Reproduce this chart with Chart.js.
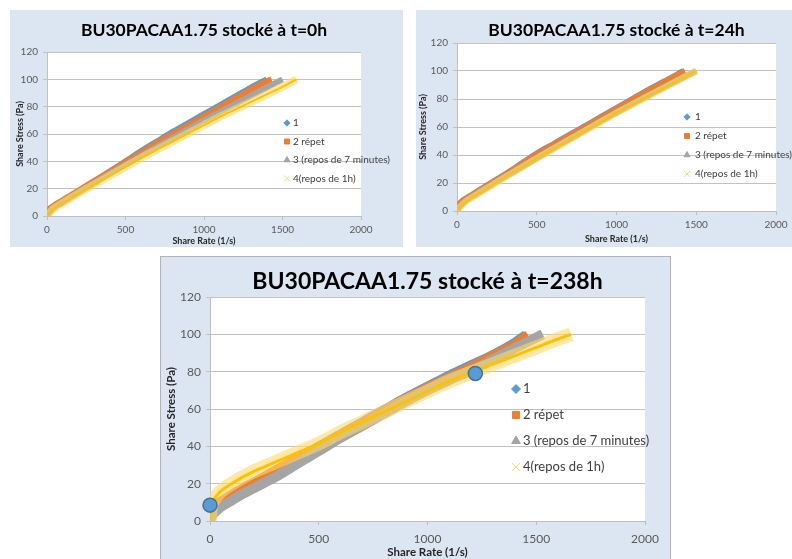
<!DOCTYPE html>
<html lang="fr">
<head>
<meta charset="utf-8">
<title>BU30PACAA1.75</title>
<script src="https://cdn.jsdelivr.net/npm/chart.js@4.4.1/dist/chart.umd.min.js"></script>
<style>
  html, body { margin: 0; padding: 0; background: #ffffff; }
  body { width: 792px; height: 559px; position: relative; overflow: hidden; }
  .panel { position: absolute; background: #dce6f2; }
  .panel canvas { display: block; }
  #panel0 { left: 10px; top: 10px; width: 393px; height: 237px; }
  #panel24 { left: 416px; top: 10px; width: 376px; height: 237px; }
  #panel238 { left: 160px; top: 256px; width: 511px; height: 304px; border: 1px solid #b3b3b3; box-sizing: border-box; }
</style>
</head>
<body>
<div class="panel" id="panel0"><canvas id="chart0" width="393" height="237"></canvas></div>
<div class="panel" id="panel24"><canvas id="chart24" width="376" height="237"></canvas></div>
<div class="panel" id="panel238"><canvas id="chart238" width="509" height="302"></canvas></div>

<script>
// axis ticks
const rateTicks = [0, 500, 1000, 1500, 2000];
const stressTicks = [0, 20, 40, 60, 80, 100, 120];

const seriesLabels = ["1", "2 répet", "3 (repos de 7 minutes)", "4(repos de 1h)"];

// t = 0h  [share rate, share stress]
const t0Series1 = [[0,0],[5,2.5],[15,4.5],[30,6],[50,7.8],[75,9.5],[100,11],[150,14.5],[200,18],[250,21.5],[300,25],[400,32.5],[500,40],[600,47.5],[700,54.5],[800,61.5],[900,68],[1000,74.5],[1100,81],[1200,87.5],[1300,94],[1400,100]];
const t0Series2 = [[0,0.5],[5,3],[15,5],[30,6.5],[50,8],[100,11.5],[150,15],[200,18.5],[300,25.5],[400,32.5],[500,39.5],[600,46.5],[700,53.5],[800,60],[900,66.5],[1000,73],[1100,79.5],[1200,86],[1300,92.5],[1400,98.5],[1430,100]];
const t0Series3 = [[0,0],[10,2],[25,4],[50,6.5],[100,10],[150,13.5],[200,17],[300,24],[400,31],[500,37.5],[600,44],[700,50.5],[800,57],[900,63.5],[1000,70],[1100,76],[1200,82],[1300,88],[1400,94],[1500,100]];
const t0Series4 = [[0,0],[10,1.5],[25,3.5],[50,6],[100,9.5],[150,13],[200,16.5],[300,23],[400,29.5],[500,36],[600,42.5],[700,48.5],[800,54.5],[900,60.5],[1000,66.5],[1100,72.5],[1200,78],[1300,83.5],[1400,89],[1500,94.5],[1590,100]];

// t = 24h
const t24Series1 = [[0,0],[5,3],[15,5],[30,6.8],[50,8.5],[100,12],[150,15.5],[200,19],[300,26],[400,33.5],[500,41],[600,47.5],[700,54],[800,60.5],[900,67],[1000,73.5],[1100,80],[1200,86.5],[1300,92.5],[1420,100]];
const t24Series2 = [[0,0.5],[5,3],[15,5],[30,6.5],[50,8.3],[100,11.8],[150,15.3],[200,18.8],[300,25.8],[400,33],[500,40.5],[600,47],[700,53.5],[800,60],[900,66.5],[1000,73],[1100,79.5],[1200,86],[1300,92],[1430,100]];
const t24Series3 = [[0,0],[10,2],[25,4],[50,6.8],[100,10.5],[150,14],[200,17.5],[300,24.5],[400,31],[500,37.8],[600,44.5],[700,51],[800,57.5],[900,64],[1000,70.3],[1100,76.5],[1200,82.5],[1300,88.5],[1400,94.3],[1500,100]];
const t24Series4 = [[0,0],[10,1.5],[25,3.5],[50,6.3],[100,10],[150,13.5],[200,17],[300,24],[400,30.7],[500,37.5],[600,44],[700,50.5],[800,57],[900,63.5],[1000,70],[1100,76],[1200,82],[1300,88],[1400,94],[1500,100]];

// t = 238h
const t238Series1 = [[0,2],[5,6],[15,8],[30,9.5],[50,11],[100,14.5],[150,18],[200,21],[300,27.5],[400,34],[500,40.5],[600,47],[700,53.5],[800,60],[900,66.5],[1000,72.5],[1100,78.5],[1200,84],[1300,89.5],[1400,96],[1450,100]];
const t238Series2 = [[0,0],[2,3],[5,6],[15,8],[30,9.5],[50,11],[100,14.5],[150,18],[200,21],[250,24],[300,27.5],[400,33.5],[500,40],[600,46.5],[700,53],[800,59.5],[900,66],[1000,72],[1100,77.5],[1200,83],[1300,89],[1400,95],[1460,100]];
const t238Series3 = [[0,0],[10,3],[25,5],[50,7.5],[100,11],[150,14.5],[200,17.5],[250,20.5],[300,23.5],[400,30.5],[500,37.5],[600,44.5],[700,51],[800,57.5],[900,64],[1000,70],[1100,75.5],[1200,80.5],[1300,86.5],[1400,92.5],[1530,100]];
const t238Series4 = [[0,0],[1,2],[2,4],[3,6],[5,8],[15,11],[30,13.5],[50,16],[100,20],[150,23.5],[200,26.5],[250,29],[300,31.5],[400,36.5],[500,41.5],[600,47.5],[700,53],[800,58.5],[900,64],[1000,69.5],[1100,75],[1200,79.5],[1300,84],[1400,88.5],[1500,93],[1600,97.5],[1660,100]];
const t238Highlights = [[0,8.5],[1220,79]];

Chart.defaults.font.family = "Lato, 'Open Sans', sans-serif";
Chart.defaults.animation = false;

const plotBackground = {
  id: "plotBackground",
  beforeDraw(chart) {
    const { ctx, chartArea } = chart;
    ctx.save();
    ctx.fillStyle = "#ffffff";
    ctx.fillRect(chartArea.left, chartArea.top, chartArea.right - chartArea.left, chartArea.bottom - chartArea.top);
    ctx.restore();
  }
};

// excel-like legend that sits over the plot area
const sheetLegend = {
  id: "sheetLegend",
  afterDraw(chart, args, opts) {
    const { ctx } = chart;
    ctx.save();
    ctx.font = `${opts.fontSize}px Lato, 'Open Sans', sans-serif`;
    ctx.textBaseline = "middle";
    ctx.textAlign = "left";

    chart.data.datasets.forEach((ds) => {
      if (ds.legendIndex === undefined) {
        return;
      }
      const y = opts.y + ds.legendIndex * opts.gap;
      ctx.fillStyle = ds.markerColor;
      ctx.strokeStyle = ds.markerColor;
      ctx.lineWidth = 1;
      Chart.helpers.drawPoint(ctx, {
        pointStyle: ds.markerStyle,
        rotation: 0,
        radius: opts.radius * (ds.markerScale || 1),
        borderWidth: 1
      }, opts.markerX, y);
      ctx.fillStyle = "#404040";
      ctx.fillText(ds.label, opts.textX, y);
    });
    ctx.restore();
  }
};

function toPoints(pairs) {
  return pairs.map(([x, y]) => ({ x, y }));
}

function bandDataset(label, pairs, color, width, order, marker) {
  return {
    label,
    data: toPoints(pairs),
    showLine: true,
    borderColor: color,
    backgroundColor: color,
    borderWidth: width,
    pointRadius: 0,
    tension: 0.4,
    cubicInterpolationMode: "monotone",
    order,
    ...marker
  };
}

function buildDatasets(series, widths) {
  return [
    bandDataset(seriesLabels[0], series[0], "#5b9bd5", widths.band, 5,
      { legendIndex: 0, markerStyle: "rectRot", markerColor: "#5b9bd5", markerScale: 0.9 }),
    bandDataset(seriesLabels[1], series[1], "#ed7d31", widths.band, 4,
      { legendIndex: 1, markerStyle: "rect", markerColor: "#ed7d31", markerScale: 1 }),
    bandDataset(seriesLabels[2], series[2], "#a5a5a5", widths.grey, 3,
      { legendIndex: 2, markerStyle: "triangle", markerColor: "#a5a5a5", markerScale: 1 }),
    bandDataset(seriesLabels[3], series[3], "rgba(255, 217, 102, 0.6)", widths.halo, 2,
      { legendIndex: 3, markerStyle: "crossRot", markerColor: "#ffd966", markerScale: 1.2 }),
    bandDataset(seriesLabels[3] + " core", series[3], "#ffc000", widths.core, 1, {})
  ];
}

function buildOptions(cfg) {
  return {
    responsive: false,
    layout: { padding: cfg.padding },
    plugins: {
      legend: { display: false },
      tooltip: { enabled: false },
      title: {
        display: true,
        fullSize: false,
        text: cfg.title,
        color: "#000000",
        font: { size: cfg.titleSize, weight: "bold" },
        padding: cfg.titlePadding
      },
      sheetLegend: cfg.legend
    },
    scales: {
      x: {
        type: "linear",
        min: 0,
        max: 2000,
        afterBuildTicks(scale) {
          scale.ticks = rateTicks.map((value) => ({ value }));
        },
        afterFit(scale) {
          scale.height = cfg.xHeight;
        },
        ticks: {
          color: "#595959",
          font: { size: cfg.tickSize },
          padding: cfg.xTickPadding,
          maxRotation: 0,
          callback: (value) => String(value)
        },
        grid: { drawOnChartArea: false, drawTicks: true, tickLength: 4, color: "#bfbfbf" },
        border: { color: "#bfbfbf" },
        title: {
          display: true,
          text: "Share Rate (1/s)",
          color: "#262626",
          font: { size: cfg.axisTitleSize, weight: "bold" },
          padding: { top: 0, bottom: cfg.xTitleBottom }
        }
      },
      y: {
        min: 0,
        max: 120,
        afterBuildTicks(scale) {
          scale.ticks = stressTicks.map((value) => ({ value }));
        },
        afterFit(scale) {
          scale.width = cfg.yWidth;
        },
        ticks: {
          color: "#595959",
          font: { size: cfg.tickSize },
          padding: 5,
          callback: (value) => String(value)
        },
        grid: { color: "#c2c2c2", tickLength: 4 },
        border: { color: "#bfbfbf" },
        title: {
          display: true,
          text: "Share Stress (Pa)",
          color: "#262626",
          font: { size: cfg.axisTitleSize, weight: "bold" },
          padding: { top: cfg.yTitleTop, bottom: 0 }
        }
      }
    }
  };
}

function renderChart(canvasId, series, widths, cfg, extra = []) {
  const el = document.getElementById(canvasId);
  return new Chart(el, {
    type: "scatter",
    data: { datasets: [...buildDatasets(series, widths), ...extra] },
    options: buildOptions(cfg),
    plugins: [plotBackground, sheetLegend]
  });
}

renderChart("chart0", [t0Series1, t0Series2, t0Series3, t0Series4],
  { band: 6, grey: 6, halo: 8, core: 2 },
  {
    title: "BU30PACAA1.75 stocké à t=0h",
    titleSize: 17.5,
    titlePadding: { top: 10, bottom: 11 },
    padding: { left: 1, right: 42, top: 0, bottom: 0 },
    yWidth: 36,
    xHeight: 31,
    tickSize: 10,
    axisTitleSize: 9,
    xTickPadding: 4,
    xTitleBottom: 1,
    yTitleTop: 4,
    legend: { markerX: 277, textX: 283, y: 113, gap: 18.5, fontSize: 10, radius: 3.5 }
  });

renderChart("chart24", [t24Series1, t24Series2, t24Series3, t24Series4],
  { band: 6, grey: 6, halo: 7, core: 2 },
  {
    title: "BU30PACAA1.75 stocké à t=24h",
    titleSize: 17.5,
    titlePadding: { top: 10, bottom: 2 },
    padding: { left: 0, right: 16, top: 0, bottom: 0 },
    yWidth: 41,
    xHeight: 36,
    tickSize: 10,
    axisTitleSize: 9,
    xTickPadding: 4,
    xTitleBottom: 3,
    yTitleTop: 2,
    legend: { markerX: 271, textX: 279, y: 107, gap: 19, fontSize: 10, radius: 3.5 }
  });

renderChart("chart238", [t238Series1, t238Series2, t238Series3, t238Series4],
  { band: 8, grey: 10, halo: 14, core: 3 },
  {
    title: "BU30PACAA1.75 stocké à t=238h",
    titleSize: 23,
    titlePadding: { top: 11, bottom: 1.4 },
    padding: { left: 0, right: 25, top: 0, bottom: 0 },
    yWidth: 49,
    xHeight: 38,
    tickSize: 12,
    axisTitleSize: 11.5,
    xTickPadding: 7,
    xTitleBottom: 0,
    yTitleTop: 3,
    legend: { markerX: 355, textX: 362, y: 132, gap: 26, fontSize: 13, radius: 5 }
  },
  [{
    label: "points",
    data: toPoints(t238Highlights),
    showLine: false,
    clip: false,
    pointStyle: "circle",
    pointRadius: 7,
    backgroundColor: "#5b9bd5",
    borderColor: "#41719c",
    borderWidth: 1.5,
    order: 0
  }]);
</script>
</body>
</html>
